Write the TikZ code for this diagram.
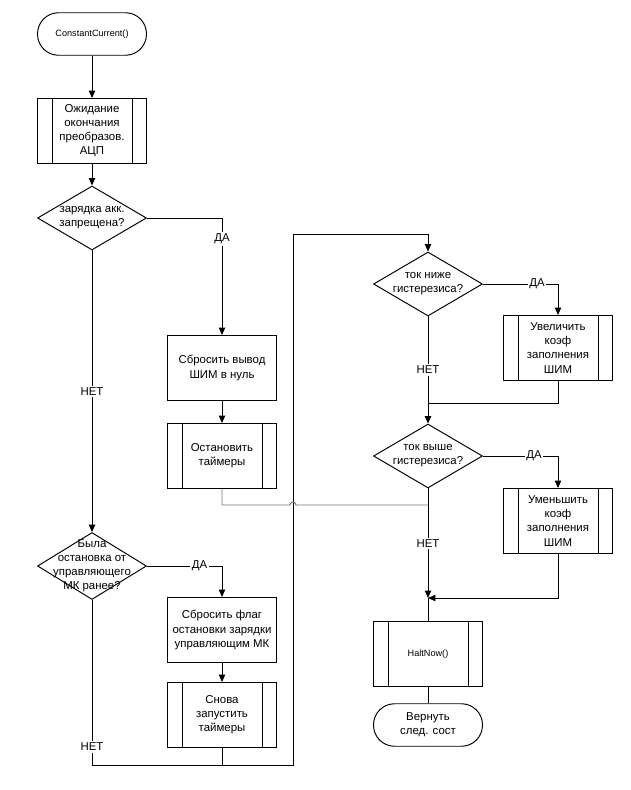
\documentclass[tikz,border=0pt]{standalone}
\usepackage{fontspec}
\setmainfont{Liberation Sans}
\usetikzlibrary{shapes.geometric,arrows.meta}

\tikzset{
	box/.style = {draw, line width=0.55pt, minimum width=2.18cm, minimum height=1.3cm, inner sep=1pt, align=center, font=\fontsize{6.5}{8}\selectfont},
	sub/.style = {box, path picture={
		\draw[line width=0.55pt] ([xshift=0.29cm]path picture bounding box.north west) -- ([xshift=0.29cm]path picture bounding box.south west);
		\draw[line width=0.55pt] ([xshift=-0.29cm]path picture bounding box.north east) -- ([xshift=-0.29cm]path picture bounding box.south east);}},
	term/.style = {box, minimum height=0.85cm, rounded corners=0.42cm},
	dia/.style = {draw, diamond, line width=0.55pt, minimum width=2.18cm, minimum height=1.28cm, inner sep=0pt},
	dtext/.style = {align=center, font=\fontsize{6.5}{8}\selectfont},
	lbl/.style = {fill=white, inner sep=1pt, font=\fontsize{6.5}{8}\selectfont},
	wire/.style = {line width=0.55pt},
	arr/.style = {wire, -{Triangle[width=3.6pt,length=4.2pt]}}
}

\begin{document}
\begin{tikzpicture}[x=0.02cm, y=-0.02cm]
	\useasboundingbox (0,0) rectangle (631,790);

	% left column
	\node[term, font=\fontsize{5.2}{6}\selectfont] (start) at (92,34) {ConstantCurrent()};
	\node[sub] (wait) at (92,131) {Ожидание\\окончания\\преобразов.\\АЦП};
	\node[dia, label={[dtext]center:{зарядка акк.\\запрещена?}}] (chk) at (92,218) {};
	\node[dia, minimum height=1.34cm, label={[dtext]center:{Была\\остановка от\\управляющего\\МК ранее?}}] (was) at (92,566) {};

	% middle column
	\node[box] (reset) at (222,368) {Сбросить вывод\\ШИМ в нуль};
	\node[sub] (stop) at (222,456) {Остановить\\таймеры};
	\node[box] (flag) at (222,630) {Сбросить флаг\\остановки зарядки\\управляющим МК};
	\node[sub] (restart) at (222,715) {Снова\\запустить\\таймеры};

	% right column
	\node[dia, label={[dtext]center:{ток ниже\\гистерезиса?}}] (low) at (428,284) {};
	\node[sub] (inc) at (558,348) {Увеличить\\коэф\\заполнения\\ШИМ};
	\node[dia, label={[dtext]center:{ток выше\\гистерезиса?}}] (high) at (428,456) {};
	\node[sub] (dec) at (558,521) {Уменьшить\\коэф\\заполнения\\ШИМ};
	\node[sub, font=\fontsize{5.2}{6}\selectfont] (halt) at (428,654) {HaltNow()};
	\node[term] (ret) at (428,725) {Вернуть\\след. сост};

	\coordinate (loopL) at (92,765);
	\coordinate (loopT) at (293,234);
	\coordinate (merge) at (428,598);
	\coordinate (bend) at (290,505);
	\coordinate (join) at (428,505);

	\draw[arr] (start) -- (wait);
	\draw[arr] (wait) -- (chk);
	\draw[arr] (chk.east) -| node[lbl, pos=0.59] {ДА} (reset.north);
	\draw[arr] (reset) -- (stop);
	\draw[arr] (chk.south) -- node[lbl] {НЕТ} (was.north);
	\draw[arr] (was.east) -| node[lbl, pos=0.35] {ДА} (flag.north);
	\draw[arr] (flag) -- (restart);
	\draw[arr] (was.south) -- node[lbl, pos=0.89] {НЕТ} (loopL) -| (loopT) -| (low.north);
	\draw[wire] (restart.south) -- (restart.south |- loopL);
	\draw[wire, black!55] (stop.south) |- (bend) arc[start angle=180, end angle=0, radius=0.06cm] -- (join);

	\draw[arr] (low.east) -| node[lbl, pos=0.36] {ДА} (inc.north);
	\draw[wire] (inc.south) |- (428,403);
	\draw[arr] (low.south) -- node[lbl] {НЕТ} (high.north);
	\draw[arr] (high.east) -| node[lbl, pos=0.34] {ДА} (dec.north);
	\draw[arr] (dec.south) |- (merge);
	\draw[arr] (high.south) -- node[lbl] {НЕТ} (merge);
	\draw[wire] (merge) -- (halt.north);
	\draw[wire] (halt) -- (ret);
\end{tikzpicture}
\end{document}
